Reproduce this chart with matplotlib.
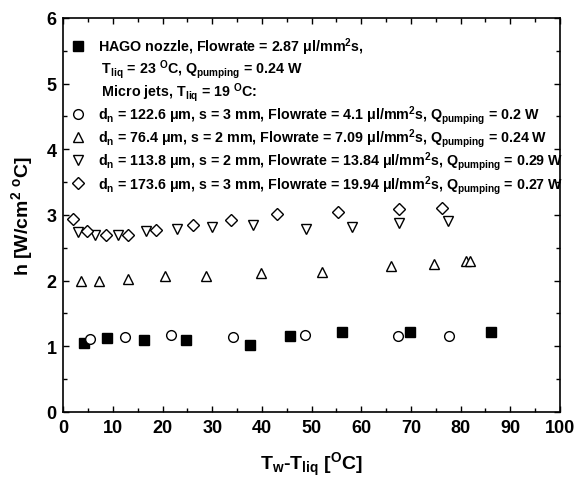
import matplotlib
matplotlib.use("Agg")
import matplotlib.pyplot as plt
from matplotlib.lines import Line2D
from matplotlib.ticker import MultipleLocator

plt.rcParams["font.family"] = ["Liberation Sans", "DejaVu Sans"]
plt.rcParams["font.weight"] = "bold"
plt.rcParams["axes.labelweight"] = "bold"
plt.rcParams["mathtext.fontset"] = "custom"
plt.rcParams["mathtext.rm"] = "Liberation Sans:bold"
plt.rcParams["mathtext.it"] = "Liberation Sans:bold"
plt.rcParams["mathtext.bf"] = "Liberation Sans:bold"
plt.rcParams["mathtext.default"] = "bf"

# HAGO nozzle
hago_x = [4.2, 8.7, 16.3, 24.8, 37.6, 45.6, 56.2, 69.9, 86.2]
hago_h = [1.05, 1.13, 1.09, 1.09, 1.02, 1.15, 1.22, 1.22, 1.22]

# Micro jets, d_n = 122.6 um
jet1_x = [5.3, 12.4, 21.6, 34.1, 48.6, 67.4, 77.7]
jet1_h = [1.11, 1.14, 1.17, 1.14, 1.17, 1.15, 1.15]

# Micro jets, d_n = 76.4 um
jet2_x = [3.5, 7.2, 13.0, 20.5, 28.8, 39.8, 52.1, 65.9, 74.6, 81.0, 81.9]
jet2_h = [1.99, 2.00, 2.02, 2.07, 2.07, 2.12, 2.13, 2.22, 2.26, 2.30, 2.30]

# Micro jets, d_n = 113.8 um
jet3_x = [3.0, 6.3, 11.1, 16.7, 22.8, 30.0, 38.2, 48.8, 58.2, 67.7, 77.4]
jet3_h = [2.74, 2.69, 2.70, 2.75, 2.79, 2.82, 2.84, 2.78, 2.82, 2.88, 2.91]

# Micro jets, d_n = 173.6 um
jet4_x = [1.9, 4.7, 8.5, 13.1, 18.6, 26.1, 33.8, 43.1, 55.3, 67.6, 76.2]
jet4_h = [2.94, 2.76, 2.69, 2.70, 2.77, 2.84, 2.93, 3.02, 3.05, 3.09, 3.11]

x_ticks = [0, 10, 20, 30, 40, 50, 60, 70, 80, 90, 100]
y_ticks = [0, 1, 2, 3, 4, 5, 6]

legend_labels = [
    r"HAGO nozzle, Flowrate = 2.87 $\mu$l/mm$^{2}$s,",
    r" T$_{liq}$ = 23 $^{O}$C, Q$_{pumping}$ = 0.24 W",
    r" Micro jets, T$_{liq}$ = 19 $^{O}$C:",
    r"d$_{n}$ = 122.6 $\mu$m, s = 3 mm, Flowrate = 4.1 $\mu$l/mm$^{2}$s, Q$_{pumping}$ = 0.2 W",
    r"d$_{n}$ = 76.4 $\mu$m, s = 2 mm, Flowrate = 7.09 $\mu$l/mm$^{2}$s, Q$_{pumping}$ = 0.24 W",
    r"d$_{n}$ = 113.8 $\mu$m, s = 2 mm, Flowrate = 13.84 $\mu$l/mm$^{2}$s, Q$_{pumping}$ = 0.29 W",
    r"d$_{n}$ = 173.6 $\mu$m, s = 3 mm, Flowrate = 19.94 $\mu$l/mm$^{2}$s, Q$_{pumping}$ = 0.27 W",
]

fig = plt.figure(figsize=(5.76, 4.85), dpi=100)
ax = fig.add_axes([0.110, 0.1485, 0.862, 0.8125])

open_kw = dict(linestyle="none", markerfacecolor="white", markeredgecolor="black",
               markeredgewidth=1.0)
ax.plot(hago_x, hago_h, "s", color="black", markersize=7, linestyle="none", zorder=3)
ax.plot(jet1_x, jet1_h, "o", markersize=7, zorder=3, **open_kw)
ax.plot(jet2_x, jet2_h, "^", markersize=7.5, zorder=3, **open_kw)
ax.plot(jet3_x, jet3_h, "v", markersize=7.5, zorder=3, **open_kw)
ax.plot(jet4_x, jet4_h, "D", markersize=6.5, zorder=3, **open_kw)

ax.set_xlim(0, 100)
ax.set_ylim(0, 6)
ax.set_xticks(x_ticks)
ax.set_xticklabels([str(t) for t in x_ticks], fontweight="bold", fontsize=13)
ax.set_yticks(y_ticks)
ax.set_yticklabels([str(t) for t in y_ticks], fontweight="bold", fontsize=13)
ax.xaxis.set_minor_locator(MultipleLocator(5))
ax.yaxis.set_minor_locator(MultipleLocator(0.5))
ax.tick_params(which="both", direction="in", top=True, right=True, width=1.0)
ax.tick_params(which="major", length=4.5, pad=5)
ax.tick_params(which="minor", length=3)
for sp in ax.spines.values():
    sp.set_linewidth(1.2)

ax.set_xlabel(r"T$_{w}$-T$_{liq}$ [$^{O}$C]", fontsize=14, fontweight="bold", labelpad=10)
ax.set_ylabel(r"h [W/cm$^{2}$ $^{o}$C]", fontsize=14, fontweight="bold", labelpad=8)

blank = Line2D([], [], linestyle="none", marker="none")
handles = [
    Line2D([], [], linestyle="none", marker="s", color="black", markersize=7),
    blank, blank,
    Line2D([], [], marker="o", markersize=7, **open_kw),
    Line2D([], [], marker="^", markersize=7.5, **open_kw),
    Line2D([], [], marker="v", markersize=7.5, **open_kw),
    Line2D([], [], marker="D", markersize=6.5, **open_kw),
]
ax.legend(handles, legend_labels, loc="upper left", bbox_to_anchor=(0.0, 0.975),
          frameon=False, fontsize=10.3, handlelength=1.0, handletextpad=0.9,
          labelspacing=0.02, borderaxespad=0.3, borderpad=0.2,
          prop={"weight": "bold", "size": 10.3})

fig.savefig("out.png", dpi=100)
